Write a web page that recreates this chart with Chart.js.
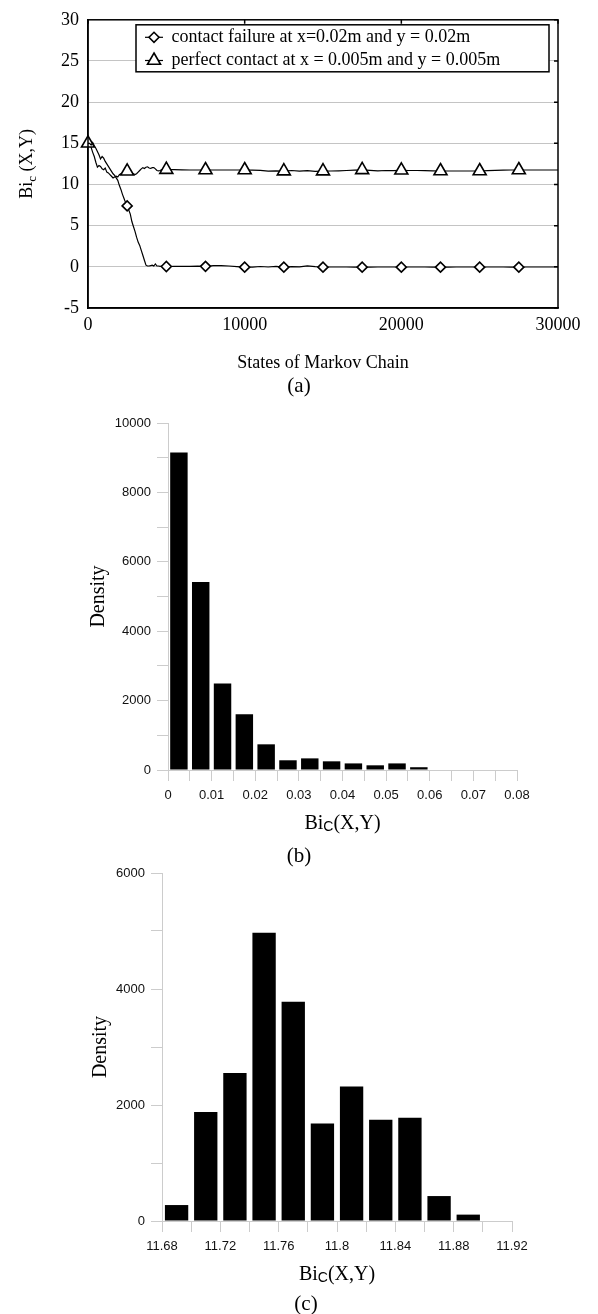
<!DOCTYPE html>
<html>
<head>
<meta charset="utf-8">
<title>Bi_c(X,Y) Markov chain</title>
<script src="https://cdn.jsdelivr.net/npm/chart.js@4.4.1/dist/chart.umd.min.js"></script>
<style>
  body { margin: 0; background: #fff; width: 598px; height: 1314px; position: relative; overflow: hidden; }
  canvas { position: absolute; left: 0; }
  .caption { position: absolute; left: 0; width: 598px; text-align: center; line-height: 24px;
             font: 21px 'Liberation Serif', 'Times New Roman', serif; color: #000; }
</style>
</head>
<body>
<canvas id="chainChart" width="598" height="400" style="top:0"></canvas>
<div class="caption" style="top:373px">(a)</div>
<canvas id="failureHist" width="598" height="440" style="top:405px"></canvas>
<div class="caption" style="top:843px">(b)</div>
<canvas id="perfectHist" width="598" height="440" style="top:858px"></canvas>
<div class="caption" style="top:1291px; left:7px">(c)</div>

<script>
// Markov chain states and the sampled Bi_c for both cases
var chainStates = [
  0, 100, 200, 300, 400, 500, 600, 700, 800, 900,
  1000, 1100, 1200, 1300, 1400, 1500, 1600, 1700, 1800, 1900,
  2000, 2100, 2200, 2300, 2400, 2500, 2600, 2700, 2800, 2900,
  3000, 3100, 3200, 3300, 3400, 3500, 3600, 3700, 3800, 3900,
  4000, 4100, 4200, 4300, 4400, 4500, 4600, 4700, 4800, 4900,
  5000, 5500, 6000, 6500, 7000, 7500, 8000, 8500, 9000, 9500,
  10000, 10500, 11000, 11500, 12000, 12500, 13000, 13500, 14000, 14500,
  15000, 15500, 16000, 16500, 17000, 17500, 18000, 18500, 19000, 19500,
  20000, 20500, 21000, 21500, 22000, 22500, 23000, 23500, 24000, 24500,
  25000, 25500, 26000, 26500, 27000, 27500, 28000, 28500, 29000, 29500,
  30000
];

var failureBi = [
  15.0, 15.0, 14.8, 15.1, 14.7, 14.4, 14.0, 13.6, 13.1, 13.4,
  13.2, 12.8, 12.5, 12.2, 11.9, 11.6, 11.3, 11.1, 10.8, 10.5,
  9.9, 9.4, 8.8, 8.3, 7.8, 7.4, 6.9, 6.4, 5.5, 4.9,
  4.3, 3.6, 3.0, 2.6, 2.0, 1.4, 0.8, 0.2, 0.1, 0.1,
  0.15, 0.2, 0.1, 0.35, 0.1, 0.1, 0.05, 0.1, 0.05, 0.05,
  0.04, 0.06, 0.06, 0.06, 0.08, 0.06, 0.14, 0.14, 0.1, 0.02,
  -0.04, -0.04, 0.04, -0.02, 0.06, -0.04, 0.02, 0.0, 0.12, 0.02,
  -0.04, -0.02, -0.02, -0.02, -0.04, -0.04, -0.04, -0.02, -0.02, -0.02,
  -0.04, -0.02, -0.02, -0.02, -0.04, -0.04, -0.04, -0.02, -0.02, -0.02,
  -0.04, -0.02, -0.02, -0.02, -0.04, -0.04, -0.02, -0.02, -0.02, -0.02,
  -0.02
];

var perfectBi = [
  15.0, 14.8, 14.5, 13.9, 13.4, 12.7, 12.1, 12.3, 12.2, 11.9,
  11.8, 12.0, 11.5, 11.4, 11.2, 11.0, 10.8, 10.9, 11.0, 10.9,
  11.2, 11.3, 11.2, 11.4, 11.5, 11.6, 11.5, 11.4, 11.35, 11.3,
  11.2, 11.3, 11.5, 11.7, 11.9, 12.05, 11.95, 12.1, 12.15, 12.0,
  11.95, 12.05, 12.05, 11.9, 11.7, 11.65, 11.7, 11.8, 11.75, 11.8,
  11.8, 11.8, 11.78, 11.76, 11.76, 11.76, 11.76, 11.76, 11.76, 11.76,
  11.76, 11.74, 11.72, 11.62, 11.66, 11.62, 11.7, 11.62, 11.68, 11.6,
  11.62, 11.64, 11.66, 11.7, 11.74, 11.78, 11.72, 11.66, 11.7, 11.68,
  11.72, 11.7, 11.7, 11.68, 11.66, 11.64, 11.64, 11.64, 11.64, 11.64,
  11.64, 11.68, 11.72, 11.74, 11.76, 11.76, 11.76, 11.76, 11.76, 11.76,
  11.76
];

// histogram of Bi_c for contact failure (bin width 0.005)
var failureBins = [0.0025, 0.0075, 0.0125, 0.0175, 0.0225, 0.0275, 0.0325, 0.0375, 0.0425, 0.0475, 0.0525, 0.0575];
var failureDensity = [9150, 5420, 2490, 1610, 740, 280, 335, 250, 190, 135, 190, 80];

// histogram of Bi_c for perfect contact (bin width 0.02)
var perfectBins = [11.69, 11.71, 11.73, 11.75, 11.77, 11.79, 11.81, 11.83, 11.85, 11.87, 11.89];
var perfectDensity = [275, 1880, 2550, 4970, 3780, 1680, 2320, 1745, 1780, 430, 110];

var serif = "'Liberation Serif', 'Times New Roman', serif";
var sans = "'Liberation Sans', Arial, sans-serif";

// text with a lowered subscript part, optionally rotated for a y axis
function drawRich(ctx, parts, x, y, rotate) {
  ctx.save();
  ctx.translate(x, y);
  if (rotate) ctx.rotate(-Math.PI / 2);
  ctx.textBaseline = 'alphabetic';
  ctx.textAlign = 'left';
  ctx.fillStyle = '#000';
  var total = 0;
  parts.forEach(function (p) { ctx.font = p.font; p.w = ctx.measureText(p.text).width; total += p.w; });
  var cx = -total / 2;
  parts.forEach(function (p) { ctx.font = p.font; ctx.fillText(p.text, cx, p.dy || 0); cx += p.w; });
  ctx.restore();
}

function richTitle(id, parts, place) {
  return {
    id: id,
    afterDraw: function (chart) {
      var p = place(chart.chartArea);
      drawRich(chart.ctx, parts, p.x, p.y, p.rotate);
    }
  };
}

// black box round the plot, with small inward ticks on top and right
var chainFrame = {
  id: 'chainFrame',
  afterDatasetsDraw: function (chart) {
    var ctx = chart.ctx, a = chart.chartArea;
    ctx.save();
    ctx.strokeStyle = '#000';
    ctx.lineWidth = 1.5;
    ctx.strokeRect(a.left, a.top, a.right - a.left, a.bottom - a.top);
    ctx.beginPath();
    chart.scales.x.ticks.forEach(function (t) {
      var px = chart.scales.x.getPixelForValue(t.value);
      ctx.moveTo(px, a.top); ctx.lineTo(px, a.top + 4);
    });
    chart.scales.y.ticks.forEach(function (t) {
      var py = chart.scales.y.getPixelForValue(t.value);
      ctx.moveTo(a.right - 4, py); ctx.lineTo(a.right, py);
    });
    ctx.stroke();
    ctx.restore();
  }
};

// legend box drawn inside the plot area
var chainLegend = {
  id: 'chainLegend',
  afterDatasetsDraw: function (chart) {
    var ctx = chart.ctx, a = chart.chartArea;
    var x0 = a.left + 48, y0 = a.top + 5, x1 = a.right - 9, y1 = a.top + 52;
    ctx.save();
    ctx.fillStyle = '#fff';
    ctx.fillRect(x0, y0, x1 - x0, y1 - y0);
    ctx.strokeStyle = '#000';
    ctx.lineWidth = 1.5;
    ctx.strokeRect(x0, y0, x1 - x0, y1 - y0);
    chart.data.datasets.forEach(function (ds, i) {
      var cy = y0 + 12.5 + i * 23.2, cx = x0 + 18;
      ctx.strokeStyle = '#000';
      ctx.lineWidth = 1.2;
      ctx.beginPath(); ctx.moveTo(cx - 9, cy); ctx.lineTo(cx + 9, cy); ctx.stroke();
      ctx.fillStyle = '#fff';
      ctx.lineWidth = 1.6;
      Chart.helpers.drawPoint(ctx, { pointStyle: ds.pointStyle, radius: ds.markSize, borderWidth: 1.6 }, cx, cy);
      ctx.fillStyle = '#000';
      ctx.font = '18px ' + serif;
      ctx.textBaseline = 'middle';
      ctx.fillText(ds.label, x0 + 35.5, cy);
    });
    ctx.restore();
  }
};

function markerAt(radius, first) {
  return function (ctx) {
    var s = ctx.raw ? ctx.raw.x : -1;
    return (s >= first && s < 30000 && s % 2500 === 0) ? radius : 0;
  };
}

function chainPoints(values) {
  return chainStates.map(function (s, i) { return { x: s, y: values[i] }; });
}

new Chart(document.getElementById('chainChart'), {
  type: 'line',
  data: {
    datasets: [
      {
        label: 'contact failure at x=0.02m and y = 0.02m',
        data: chainPoints(failureBi),
        borderColor: '#000',
        borderWidth: 1.2,
        tension: 0,
        pointStyle: 'rectRot',
        markSize: 5,
        pointRadius: markerAt(5, 2500),
        pointHoverRadius: markerAt(5, 2500),
        pointBackgroundColor: '#fff',
        pointBorderColor: '#000',
        pointBorderWidth: 1.6
      },
      {
        label: 'perfect contact at x = 0.005m and y = 0.005m',
        data: chainPoints(perfectBi),
        borderColor: '#000',
        borderWidth: 1.2,
        tension: 0,
        clip: false,
        pointStyle: 'triangle',
        markSize: 7.5,
        pointRadius: markerAt(7.5, 0),
        pointHoverRadius: markerAt(7.5, 0),
        pointBackgroundColor: '#fff',
        pointBorderColor: '#000',
        pointBorderWidth: 1.6
      }
    ]
  },
  options: {
    responsive: false,
    animation: false,
    layout: { padding: { top: 16, right: 40, left: 0, bottom: 0 } },
    plugins: { legend: { display: false }, tooltip: { enabled: false } },
    scales: {
      x: {
        type: 'linear',
        min: 0, max: 30000,
        ticks: { stepSize: 10000, padding: 6, color: '#000', font: { family: serif, size: 18 },
                 maxRotation: 0, callback: function (v) { return String(v); } },
        grid: { display: false, drawTicks: false },
        border: { color: '#000', width: 1.5 },
        title: { display: true, text: 'States of Markov Chain', color: '#000',
                 font: { family: serif, size: 18 }, padding: { top: 0, bottom: 26 } },
        afterFit: function (s) { s.height = 92; }
      },
      y: {
        min: -5, max: 30,
        ticks: { stepSize: 5, padding: 9, color: '#000', font: { family: serif, size: 18 },
                 callback: function (v) { return String(v); } },
        grid: { color: '#c4c4c4', lineWidth: 1, drawTicks: false },
        border: { color: '#000', width: 1.5 },
        afterFit: function (s) { s.width = 88; }
      }
    }
  },
  plugins: [chainFrame, chainLegend, richTitle('chainYTitle', [
    { text: 'Bi', font: '18px ' + serif },
    { text: 'c', font: '13px ' + serif, dy: 4 },
    { text: ' (X,Y)', font: '18px ' + serif }
  ], function (a) { return { x: 32, y: (a.top + a.bottom) / 2, rotate: true }; })]
});

var histTitle = [
  { text: 'Bi', font: '20px ' + serif },
  { text: 'C', font: '14px ' + sans, dy: 2 },
  { text: '(X,Y)', font: '20px ' + serif }
];

function histogram(canvasId, bins, density, opts) {
  var axisGrey = '#cccccc';
  return new Chart(document.getElementById(canvasId), {
    type: 'bar',
    data: {
      datasets: [{
        data: bins.map(function (x, i) { return { x: x, y: density[i] }; }),
        backgroundColor: '#000',
        borderWidth: 0,
        barPercentage: 0.8,
        categoryPercentage: 1
      }]
    },
    options: {
      responsive: false,
      animation: false,
      layout: { padding: { top: opts.top, right: opts.right, left: 0, bottom: 0 } },
      plugins: { legend: { display: false }, tooltip: { enabled: false } },
      scales: {
        x: {
          type: 'linear',
          offset: false,
          min: opts.xMin, max: opts.xMax,
          ticks: {
            stepSize: opts.xStep, maxTicksLimit: 50, autoSkip: false, maxRotation: 0,
            padding: 7, color: '#111', font: { family: sans, size: 13 },
            callback: function (v, i) { return i % 2 === 0 ? String(+v.toFixed(2)) : ''; }
          },
          grid: { offset: false, drawOnChartArea: false, color: axisGrey, tickLength: 11 },
          border: { color: axisGrey },
          afterFit: function (s) { s.height = opts.xHeight; }
        },
        y: {
          min: 0, max: opts.yMax,
          ticks: {
            stepSize: 1000, maxTicksLimit: 50, autoSkip: false, padding: 6,
            color: '#111', font: { family: sans, size: 13 },
            callback: function (v, i) { return i % 2 === 0 ? String(v) : ''; }
          },
          grid: { drawOnChartArea: false, color: axisGrey, tickLength: 11 },
          border: { color: axisGrey },
          title: { display: true, text: 'Density', color: '#000',
                   font: { family: serif, size: 20 }, padding: { top: opts.densityPad, bottom: 0 } },
          afterFit: function (s) { s.width = opts.yWidth; }
        }
      }
    },
    plugins: [richTitle(canvasId + 'Title', histTitle, function (a) {
      return { x: (a.left + a.right) / 2, y: a.bottom + 59 };
    })]
  });
}

histogram('failureHist', failureBins, failureDensity, {
  top: 18, right: 81, yWidth: 168, xHeight: 75, densityPad: 87,
  xMin: 0, xMax: 0.08, xStep: 0.005, yMax: 10000
});

histogram('perfectHist', perfectBins, perfectDensity, {
  top: 15, right: 86, yWidth: 162, xHeight: 77, densityPad: 89,
  xMin: 11.68, xMax: 11.92, xStep: 0.02, yMax: 6000
});
</script>
</body>
</html>
